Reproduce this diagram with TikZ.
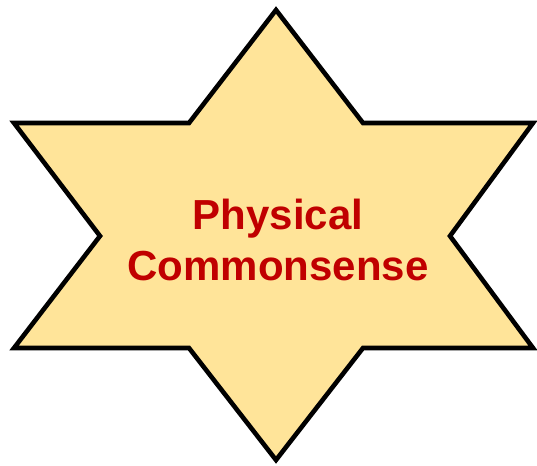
\documentclass[tikz,border=0pt]{standalone}
\usepackage{fontspec}
\setmainfont{Liberation Sans}
\definecolor{starfill}{HTML}{FFE499}
\definecolor{textred}{HTML}{C00000}
\tikzset{
  starshape/.style={draw=black, fill=starfill, line width=4.6pt, line join=miter},
  label/.style={text=textred, font=\fontsize{42}{51}\selectfont\bfseries, align=center, inner sep=0pt}
}
\begin{document}
\begin{tikzpicture}[x=1pt,y=-1pt]
\useasboundingbox (0,0) rectangle (537,465);
\draw[starshape] (276,10) -- (363,123) -- (533,123) -- (450,236) -- (533,348) -- (363,348) -- (276,460) -- (189,348) -- (14,348) -- (100,236) -- (14,123) -- (189,123) -- cycle;
\node[label] (title) at (278,240) {Physical\\Commonsense};
\end{tikzpicture}
\end{document}
